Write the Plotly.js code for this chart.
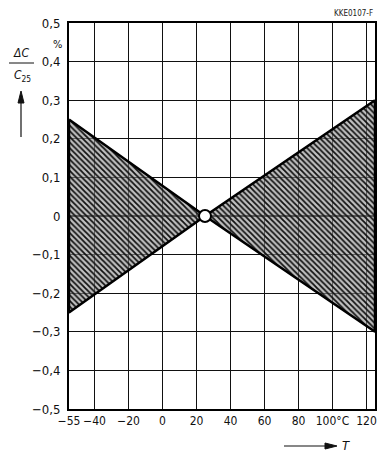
<!DOCTYPE html>
<html>
<head>
<meta charset="utf-8">
<script src="https://cdn.plot.ly/plotly-3.0.1.min.js"></script>
<style>
html,body{margin:0;padding:0;background:#fff;}
#chart{width:392px;height:455px;}
</style>
</head>
<body>
<div id="chart"></div>
<script>
// Data
const temps = [-55, 25, 125];          // °C
const upper = [0.25, 0, 0.3];          // % upper bound of ΔC/C25
const lower = [-0.25, 0, -0.3];        // % lower bound of ΔC/C25
const refPoint = {t: [25], v: [0]};
const xTickVals = [-55, -40, -20, 0, 20, 40, 60, 80, 100, 120];
const xTickText = ['−55', '−40', '−20', '0', '20', '40', '60', '80', '100°C', '120'];
const yTickVals = [-0.5, -0.4, -0.3, -0.2, -0.1, 0, 0.1, 0.2, 0.3, 0.4, 0.5];
const yTickText = ['−0,5', '−0,4', '−0,3', '−0,2', '−0,1', '0', '0,1', '0,2', '0,3', '0,4', '0,5'];

const FONT = 'DejaVu Sans Condensed, DejaVu Sans, sans-serif';

const FILLBG = 'rgba(150,150,150,0.6)';
const pattern = {shape: '\\', fgcolor: '#111', bgcolor: FILLBG, size: 4, solidity: 0.45};

const leftTri = {
  x: [temps[0], temps[1], temps[0], temps[0]],
  y: [upper[0], upper[1], lower[0], upper[0]],
  mode: 'lines', fill: 'toself', fillpattern: pattern, fillcolor: FILLBG,
  line: {color: '#000', width: 2.5}, hoverinfo: 'skip', showlegend: false
};
const rightTri = {
  x: [temps[2], temps[1], temps[2], temps[2]],
  y: [upper[2], upper[1], lower[2], upper[2]],
  mode: 'lines', fill: 'toself', fillpattern: pattern, fillcolor: FILLBG,
  line: {color: '#000', width: 2.5}, hoverinfo: 'skip', showlegend: false
};
const circle = {
  x: refPoint.t, y: refPoint.v, mode: 'markers',
  marker: {size: 12, color: '#fff', line: {color: '#000', width: 2}},
  showlegend: false, hoverinfo: 'skip'
};

const W = 392 - 69 - 17, H = 455 - 23 - 46;
function px(xPix) { return (xPix - 69) / W; }
function py(yPix) { return 1 - (yPix - 23) / H; }

const layout = {
  width: 392, height: 455,
  margin: {l: 69, r: 17, t: 23, b: 46},
  paper_bgcolor: '#fff', plot_bgcolor: '#fff',
  font: {family: FONT, size: 12, color: '#111'},
  showlegend: false,
  xaxis: {
    range: [-55, 125], tickvals: xTickVals, ticktext: xTickText, tickangle: 0,
    showgrid: true, gridcolor: '#111', gridwidth: 1.3,
    zeroline: false, showline: true, linecolor: '#000', linewidth: 2, mirror: true,
    ticks: '', ticklabelstandoff: 0, tickfont: {family: FONT, size: 12, color: '#111'}
  },
  yaxis: {
    range: [-0.5, 0.5], tickvals: yTickVals, ticktext: yTickText,
    showgrid: true, gridcolor: '#111', gridwidth: 1.3,
    zeroline: false, showline: true, linecolor: '#000', linewidth: 2, mirror: true,
    ticks: '', ticklabelstandoff: 4, tickfont: {family: FONT, size: 13, color: '#111'}
  },
  annotations: [
    {xref: 'paper', yref: 'paper', x: 1, y: 1, xanchor: 'right', yanchor: 'bottom', yshift: 3,
     text: 'KKE0107-F', showarrow: false, font: {family: FONT, size: 8, color: '#222'}},
    {xref: 'paper', yref: 'paper', x: 0, y: 1, xanchor: 'right', yanchor: 'top', xshift: -5, yshift: -13,
     text: '%', showarrow: false, font: {family: FONT, size: 11, color: '#111'}},
    {xref: 'paper', yref: 'paper', x: px(21), y: py(53), xanchor: 'center', yanchor: 'middle',
     text: '<i>ΔC</i>', showarrow: false, font: {family: FONT, size: 12, color: '#111'}},
    {xref: 'paper', yref: 'paper', x: px(22), y: py(76), xanchor: 'center', yanchor: 'middle',
     text: '<i>C</i><sub>25</sub>', showarrow: false, font: {family: FONT, size: 12, color: '#111'}},
    {xref: 'paper', yref: 'paper', x: px(340), y: py(446), xanchor: 'left', yanchor: 'middle',
     text: '<i>T</i>', showarrow: false, font: {family: FONT, size: 13, color: '#111'}}
  ],
  shapes: [
    {type: 'line', xref: 'paper', yref: 'paper', x0: px(9), x1: px(34), y0: py(63), y1: py(63), line: {color: '#111', width: 1}},
    {type: 'line', xref: 'paper', yref: 'paper', x0: px(21), x1: px(21), y0: py(137), y1: py(100), line: {color: '#111', width: 1.2}},
    {type: 'path', xref: 'paper', yref: 'paper',
     path: `M ${px(21)} ${py(91)} L ${px(18)} ${py(103)} L ${px(24)} ${py(103)} Z`, fillcolor: '#111', line: {color: '#111', width: 1}},
    {type: 'line', xref: 'paper', yref: 'paper', x0: px(284), x1: px(328), y0: py(446), y1: py(446), line: {color: '#111', width: 1.2}},
    {type: 'path', xref: 'paper', yref: 'paper',
     path: `M ${px(337)} ${py(446)} L ${px(325)} ${py(443)} L ${px(325)} ${py(449)} Z`, fillcolor: '#111', line: {color: '#111', width: 1}}
  ]
};

Plotly.newPlot('chart', [leftTri, rightTri, circle], layout, {displayModeBar: false, staticPlot: true});
</script>
</body>
</html>
